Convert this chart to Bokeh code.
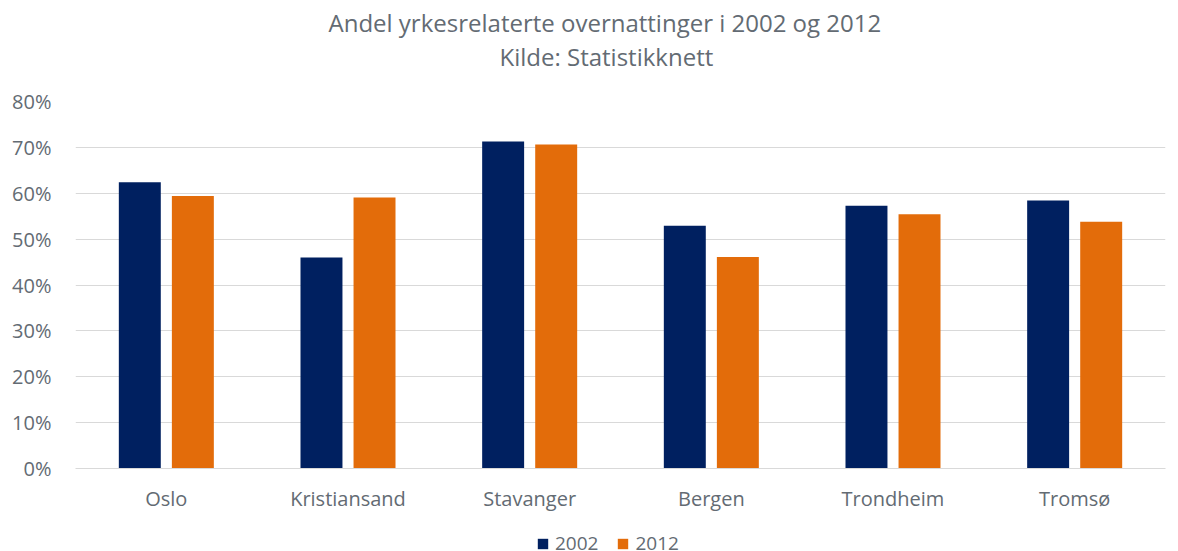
from bokeh.plotting import figure
from bokeh.layouts import column
from bokeh.models import FactorRange, Range1d, NumeralTickFormatter, Legend, LegendItem, FixedTicker, ColumnDataSource, Title
from bokeh.transform import dodge
from bokeh.embed import file_html
from bokeh.resources import INLINE

cities = ["Oslo", "Kristiansand", "Stavanger", "Bergen", "Trondheim", "Tromsø"]
v2002 = [0.624, 0.460, 0.713, 0.529, 0.573, 0.584]
v2012 = [0.594, 0.591, 0.706, 0.461, 0.554, 0.538]
series = ["2002", "2012"]
yticks = [0, 0.1, 0.2, 0.3, 0.4, 0.5, 0.6, 0.7, 0.8]
title1 = "Andel yrkesrelaterte overnattinger i 2002 og 2012"
title2 = "Kilde: Statistikknett"

FONT = "Open Sans"
TXT = "#636b73"
NAVY = "#002060"
ORANGE = "#E36C0A"

src = ColumnDataSource(dict(city=cities, v2002=v2002, v2012=v2012))

p = figure(width=1178, height=521, output_backend="svg", toolbar_location=None,
           x_range=FactorRange(factors=cities, range_padding=0),
           y_range=Range1d(0, 0.8), title=title1,
           min_border_left=75, min_border_right=13, min_border_top=101, min_border_bottom=53)
p.outline_line_color = None
p.background_fill_color = "white"
p.border_fill_color = "white"

p.title.text_font = FONT
p.title.text_font_size = "24px"
p.title.text_font_style = "normal"
p.title.text_color = TXT
p.title.align = "left"
p.title.offset = 253
try:
    p.title.standoff = -2
except Exception:
    p.title.standoff = 0
# second title line; a blank line below it keeps space above the plot
t2 = Title(text=title2 + "\n ", text_font=FONT, text_font_size="24px", text_font_style="normal",
           text_color=TXT, align="left", offset=424, standoff=0, text_line_height=0.87)
p.add_layout(t2, "above")

r1 = p.vbar(x=dodge("city", -0.146, range=p.x_range), top="v2002", width=0.231, source=src,
            fill_color=NAVY, line_color=None)
r2 = p.vbar(x=dodge("city", 0.146, range=p.x_range), top="v2012", width=0.231, source=src,
            fill_color=ORANGE, line_color=None)

p.yaxis.ticker = FixedTicker(ticks=yticks)
p.yaxis.formatter = NumeralTickFormatter(format="0%")
p.yaxis.axis_line_color = None
p.yaxis.major_tick_line_color = None
p.yaxis.minor_tick_line_color = None
p.yaxis.major_label_text_font = FONT
p.yaxis.major_label_text_font_size = "20px"
p.yaxis.major_label_text_color = TXT
p.yaxis.major_label_standoff = 18

p.xaxis.axis_line_color = "#d9d9d9"
p.xaxis.major_tick_line_color = None
p.xaxis.minor_tick_line_color = None
p.xaxis.major_label_text_font = FONT
p.xaxis.major_label_text_font_size = "20px"
p.xaxis.major_label_text_color = TXT
p.xaxis.major_label_standoff = 10

p.xgrid.grid_line_color = None
p.ygrid.grid_line_color = "#d9d9d9"
p.ygrid.grid_line_width = 1

# legend strip (bars hidden; only their legend swatches show)
pl = figure(width=1178, height=30, output_backend="svg", toolbar_location=None,
            x_range=FactorRange(factors=cities, range_padding=0), y_range=Range1d(0, 1),
            x_axis_location=None, y_axis_location=None, min_border=0)
pl.outline_line_color = None
pl.xgrid.visible = False
pl.ygrid.visible = False
l1 = pl.vbar(x="city", top="v2002", width=0.2, source=src, fill_color=NAVY, line_color=None, visible=False)
l2 = pl.vbar(x="city", top="v2012", width=0.2, source=src, fill_color=ORANGE, line_color=None, visible=False)
legend = Legend(items=[LegendItem(label=series[0], renderers=[l1]), LegendItem(label=series[1], renderers=[l2])],
                orientation="horizontal", location=(461, -5), click_policy="none",
                glyph_width=13, glyph_height=13, label_text_font=FONT, label_text_font_size="19px",
                label_text_color=TXT, background_fill_alpha=0, border_line_color=None,
                inactive_fill_alpha=0,
                padding=0, margin=0, spacing=18, label_standoff=6)
pl.add_layout(legend, "center")

open("out.html", "w").write(file_html(column(p, pl, spacing=0), INLINE))
